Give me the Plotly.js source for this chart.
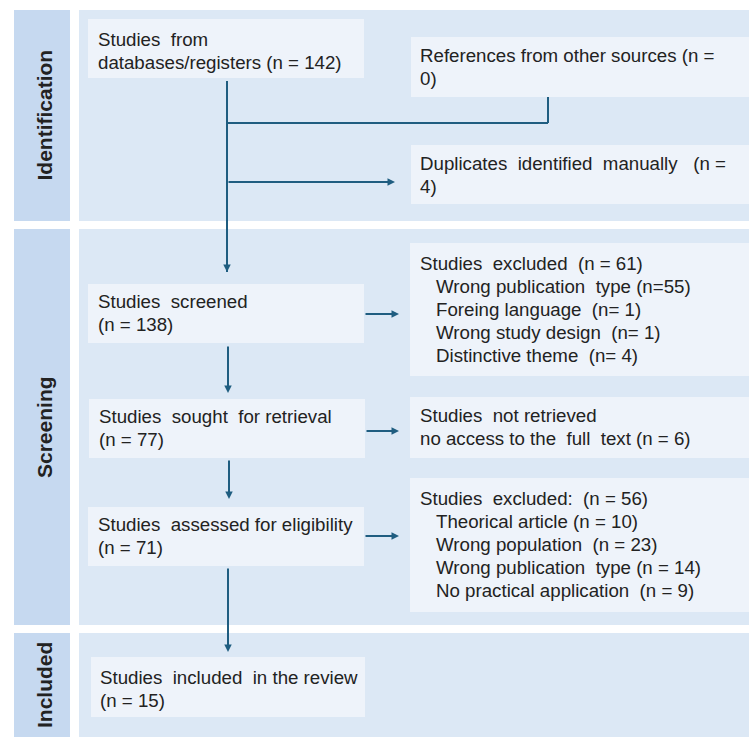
<!DOCTYPE html>
<html>
<head>
<meta charset="utf-8">
<script src="https://cdn.plot.ly/plotly-3.0.1.min.js"></script>
<style>html,body{margin:0;padding:0;background:#fff;}</style>
</head>
<body>
<div id="chart" style="width:749px;height:737px;"></div>
<script>
// ---- Data (text content of the PRISMA flow) ----
var stageLabels = ["Identification", "Screening", "Included"];
var sourceDb = ["Studies  from", "databases/registers (n = 142)"];
var sourceOther = ["References from other sources (n =", "0)"];
var duplicates = ["Duplicates  identified  manually   (n =", "4)"];
var screened = ["Studies  screened", "(n = 138)"];
var excluded1 = ["Studies  excluded  (n = 61)", "Wrong publication  type (n=55)", "Foreing language  (n= 1)", "Wrong study design  (n= 1)", "Distinctive theme  (n= 4)"];
var sought = ["Studies  sought  for retrieval", "(n = 77)"];
var notRetrieved = ["Studies  not retrieved", "no access to the  full  text (n = 6)"];
var assessed = ["Studies  assessed for eligibility", "(n = 71)"];
var excluded2 = ["Studies  excluded:  (n = 56)", "Theorical article (n = 10)", "Wrong population  (n = 23)", "Wrong publication  type (n = 14)", "No practical application  (n = 9)"];
var included = ["Studies  included  in the review", "(n = 15)"];

// ---- Styling / layout geometry ----
var C_BAR = "#c6d9f0", C_PANEL = "#dce8f5", C_BOX = "#eef3fa", C_LINE = "#1f5d80", C_TEXT = "#222222";
var FONT = "Liberation Sans, Arial, sans-serif";
var FS = 18.7, LH = 23;

var shapes = [];
var annotations = [];
function rect(x0, y0, x1, y1, c) {
  shapes.push({type: "rect", xref: "x", yref: "y", x0: x0, y0: y0, x1: x1, y1: y1, fillcolor: c, line: {width: 0}, layer: "below"});
}
function seg(x0, y0, x1, y1) {
  shapes.push({type: "line", xref: "x", yref: "y", x0: x0, y0: y0, x1: x1, y1: y1, line: {color: C_LINE, width: 2}});
}
function arrow(x0, y0, x1, y1) {
  annotations.push({x: x1, y: y1, ax: x0, ay: y0, xref: "x", yref: "y", axref: "x", ayref: "y", text: "", showarrow: true, arrowhead: 2, arrowsize: 0.75, arrowwidth: 2, arrowcolor: C_LINE, standoff: 0, startstandoff: 0});
}
function lines(arr, x, y0, indentX) {
  arr.forEach(function (t, i) {
    annotations.push({x: ((i > 0 && indentX) ? indentX : x) - 2, y: y0 - 1.5 + i * LH, xref: "x", yref: "y", text: t, showarrow: false, xanchor: "left", yanchor: "middle", font: {family: FONT, size: FS, color: C_TEXT}});
  });
}
function stage(label, y0, y1) {
  rect(14, y0, 70, y1, C_BAR);
  rect(79, y0, 749, y1, C_PANEL);
  annotations.push({x: 44, y: (y0 + y1) / 2, xref: "x", yref: "y", text: "<b>" + label + "</b>", showarrow: false, textangle: -90, xanchor: "center", yanchor: "middle", font: {family: FONT, size: 21, color: C_TEXT}});
}

stage(stageLabels[0], 10, 221);
stage(stageLabels[1], 229, 625);
stage(stageLabels[2], 633, 737);

// boxes
rect(88, 19, 364, 78, C_BOX);
rect(411, 37, 749, 97, C_BOX);
rect(411, 145, 749, 204, C_BOX);
rect(88, 284, 364, 343, C_BOX);
rect(410, 243, 749, 376, C_BOX);
rect(89, 399, 365, 458, C_BOX);
rect(410, 397, 749, 458, C_BOX);
rect(88, 507, 364, 566, C_BOX);
rect(410, 478, 749, 612, C_BOX);
rect(91, 657, 365, 717, C_BOX);

// texts
lines(sourceDb, 98, 41);
lines(sourceOther, 420, 57);
lines(duplicates, 420, 165);
lines(screened, 98, 303);
lines(excluded1, 420, 265, 436);
lines(sought, 99, 418);
lines(notRetrieved, 420, 417);
lines(assessed, 98, 526);
lines(excluded2, 420, 500, 436);
lines(included, 100, 679);

// connectors
seg(227, 81, 227, 272);
arrow(227, 200, 227, 272);
seg(227, 123, 548, 123);
seg(548, 97, 548, 123);
arrow(227, 182, 395, 182);
arrow(364, 314, 399, 314);
arrow(228, 345, 228, 393);
arrow(365, 431, 399, 431);
arrow(229, 459, 229, 499);
arrow(364, 536, 399, 536);
arrow(228, 567, 228, 652);

var layout = {
  width: 749, height: 737,
  margin: {l: 0, r: 0, t: 0, b: 0},
  paper_bgcolor: "#ffffff", plot_bgcolor: "#ffffff",
  showlegend: false,
  xaxis: {range: [0, 749], visible: false, fixedrange: true},
  yaxis: {range: [737, 0], visible: false, fixedrange: true},
  shapes: shapes,
  annotations: annotations
};
Plotly.newPlot("chart", [], layout, {staticPlot: true, displayModeBar: false});
</script>
</body>
</html>
